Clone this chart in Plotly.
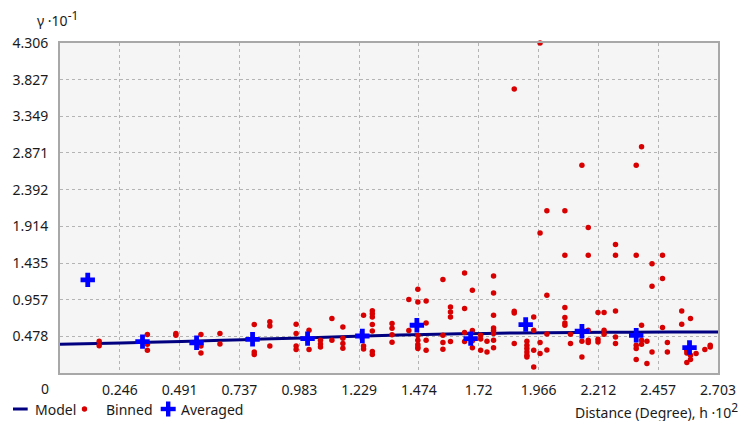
import plotly.graph_objects as go

# ---- data ---------------------------------------------------------------
x_ticks = [0.246, 0.491, 0.737, 0.983, 1.229, 1.474, 1.72, 1.966, 2.212, 2.457, 2.703]
x_tick_labels = ["0.246", "0.491", "0.737", "0.983", "1.229", "1.474", "1.72",
                 "1.966", "2.212", "2.457", "2.703"]
y_ticks = [0.478, 0.957, 1.435, 1.914, 2.392, 2.871, 3.349, 3.827, 4.306]
y_tick_labels = ["0.478", "0.957", "1.435", "1.914", "2.392", "2.871", "3.349", "3.827", "4.306"]

# fitted semivariogram model (distance, gamma)
model_dist = [0.0, 0.25, 0.5, 0.75, 1.0, 1.25, 1.5, 1.75, 2.0, 2.25, 2.5, 2.703]
model_gamma = [0.375, 0.392, 0.412, 0.435, 0.458, 0.484, 0.503, 0.517, 0.526, 0.532, 0.535, 0.535]

# binned empirical semivariance
binned_dist = [
    0.161, 0.161,
    0.359, 0.359, 0.359,
    0.476, 0.476,
    0.579, 0.579, 0.579,
    0.657, 0.657,
    0.798, 0.798, 0.798,
    0.862, 0.862, 0.862,
    0.970, 0.970, 0.970, 0.970,
    1.023, 1.023,
    1.070, 1.070, 1.070,
    1.117, 1.117,
    1.162, 1.162, 1.162, 1.162,
    1.247, 1.247, 1.247,
    1.283, 1.283, 1.283, 1.283, 1.283, 1.283, 1.283,
    1.364, 1.364, 1.364, 1.364,
    1.433, 1.433,
    1.470, 1.470, 1.470, 1.470, 1.470, 1.470, 1.470,
    1.504, 1.504, 1.504, 1.504,
    1.573, 1.573, 1.573, 1.573,
    1.604, 1.604, 1.604, 1.604,
    1.662, 1.662, 1.662, 1.662,
    1.694, 1.694, 1.694, 1.694,
    1.728, 1.728, 1.728,
    1.754, 1.754,
    1.781, 1.781, 1.781, 1.781, 1.781, 1.781, 1.781, 1.781,
    1.866, 1.866, 1.866, 1.866,
    1.918, 1.918, 1.918, 1.918, 1.918, 1.918,
    1.946, 1.946, 1.946, 1.946,
    1.972, 1.972, 1.972, 1.972,
    2.000, 2.000, 2.000, 2.000,
    2.074, 2.074, 2.074, 2.074, 2.074, 2.074,
    2.097, 2.097,
    2.144, 2.144, 2.144,
    2.170, 2.170, 2.170, 2.170, 2.170,
    2.210, 2.210, 2.210,
    2.235, 2.235, 2.235,
    2.282, 2.282, 2.282, 2.282, 2.282,
    2.367, 2.367, 2.367, 2.367, 2.367,
    2.389, 2.389, 2.389, 2.389,
    2.411, 2.411,
    2.432, 2.432, 2.432,
    2.475, 2.475, 2.475,
    2.495, 2.495,
    2.554, 2.554,
    2.575, 2.575, 2.575,
    2.590, 2.590, 2.590,
    2.613,
    2.649,
    2.671, 2.671,
]
binned_gamma = [
    0.414, 0.355,
    0.501, 0.375, 0.296,
    0.516, 0.492,
    0.501, 0.353, 0.261,
    0.514, 0.378,
    0.632, 0.274, 0.240,
    0.668, 0.614, 0.353,
    0.636, 0.514, 0.353, 0.308,
    0.558, 0.306,
    0.427, 0.378, 0.340,
    0.710, 0.427,
    0.601, 0.455, 0.385, 0.322,
    0.754, 0.352, 0.312,
    0.812, 0.772, 0.731, 0.632, 0.547, 0.280, 0.240,
    0.645, 0.585, 0.500, 0.400,
    0.960, 0.553,
    1.093, 0.927, 0.488, 0.427, 0.371, 0.340, 0.320,
    0.940, 0.653, 0.427, 0.296,
    1.220, 0.492, 0.397, 0.310,
    0.862, 0.797, 0.731, 0.410,
    1.306, 0.841, 0.530, 0.412,
    1.080, 0.553, 0.420, 0.330,
    0.492, 0.443, 0.296,
    0.414, 0.274,
    1.267, 1.045, 0.754, 0.588, 0.553, 0.515, 0.427, 0.330,
    3.705, 0.806, 0.784, 0.384,
    0.414, 0.362, 0.319, 0.274, 0.231, 0.209,
    0.731, 0.558, 0.296, 0.078,
    4.306, 1.828, 0.397, 0.253,
    2.116, 1.015, 0.509, 0.300,
    2.116, 1.537, 0.854, 0.724, 0.653, 0.623,
    0.505, 0.384,
    2.712, 0.414, 0.209,
    1.899, 1.537, 0.558, 0.427, 0.397,
    0.789, 0.440, 0.405,
    0.789, 0.558, 0.505,
    1.677, 1.537, 0.810, 0.470, 0.384,
    2.712, 1.537, 0.362, 0.319, 0.175,
    2.952, 0.623, 0.427, 0.375,
    0.414, 0.123,
    1.424, 1.132, 0.274,
    1.537, 1.233, 0.593,
    0.397, 0.274,
    0.810, 0.636,
    0.296, 0.261, 0.136,
    0.710, 0.231, 0.175,
    0.253,
    0.306,
    0.362, 0.340,
]

# averaged semivariance per lag
avg_dist = [0.114, 0.339, 0.561, 0.791, 1.017, 1.242, 1.466, 1.687, 1.913, 2.144, 2.367, 2.586]
avg_gamma = [1.215, 0.410, 0.395, 0.440, 0.449, 0.483, 0.623, 0.449, 0.632, 0.545, 0.492, 0.332]

# ---- styling ------------------------------------------------------------
FONT = "Noto Sans"
FS = 14
TEXT = "#1a1a1a"
NAVY = "#000080"
RED = "#d80000"
BLUE = "#0000ff"

fig = go.Figure()

fig.add_trace(go.Scatter(
    x=model_dist, y=model_gamma, mode="lines", name="Model",
    line=dict(color=NAVY, width=3, shape="spline"),
    hoverinfo="skip", showlegend=False,
))
fig.add_trace(go.Scatter(
    x=binned_dist, y=binned_gamma, mode="markers", name="Binned",
    marker=dict(color=RED, size=5.5, line=dict(width=0)),
    showlegend=False, cliponaxis=False,
))
fig.add_trace(go.Scatter(
    x=avg_dist, y=avg_gamma, mode="markers", name="Averaged",
    marker=dict(color=BLUE, size=12, symbol="cross", line=dict(width=0)),
    showlegend=False,
))

axis_common = dict(
    showgrid=True, gridcolor="#b4b4b4", gridwidth=1, griddash="dot",
    showline=True, mirror=True, linecolor="#a8a8a8", linewidth=2,
    zeroline=False, ticks="", fixedrange=True,
    tickfont=dict(family=FONT, size=FS, color=TEXT),
)

fig.update_xaxes(range=[0, 2.703], tickmode="array",
                 tickvals=x_ticks, ticktext=x_tick_labels,
                 ticklabelstandoff=3, **axis_common)
fig.update_yaxes(range=[0, 4.306], tickmode="array",
                 tickvals=y_ticks, ticktext=y_tick_labels,
                 ticklabelstandoff=7, **axis_common)

# plot area spans 54..726 px horizontally and 43..373 px vertically
PL, PR, PT, PB = 54, 726, 43, 373
W, H = 748, 421


def px(x):
    return (x - PL) / (PR - PL)


def py(y):
    return (PB - y) / (PB - PT)


SUP = "<sup><span style='font-size:12px'>{}</span></sup>"

annotations = [
    dict(text="γ ·10" + SUP.format("-1"), x=px(28), y=py(19), xanchor="left", yanchor="middle"),
    dict(text="0", x=px(39), y=py(388), xanchor="center", yanchor="middle"),
    dict(text="Distance (Degree), h ·10" + SUP.format("2"), x=px(748), y=py(410),
         xanchor="right", yanchor="middle"),
    dict(text="Model", x=px(26), y=py(409), xanchor="left", yanchor="middle"),
    dict(text="Binned", x=px(99), y=py(409), xanchor="left", yanchor="middle"),
    dict(text="Averaged", x=px(176), y=py(409), xanchor="left", yanchor="middle"),
]
for a in annotations:
    a.update(xref="paper", yref="paper", showarrow=False,
             font=dict(family=FONT, size=FS, color=TEXT))

# legend keys
shapes = [
    dict(type="line", xref="paper", yref="paper", x0=px(6), x1=px(21), y0=py(409), y1=py(409),
         line=dict(color=NAVY, width=3)),
    dict(type="circle", xref="paper", yref="paper", xsizemode="pixel", ysizemode="pixel",
         xanchor=px(79), yanchor=py(409), x0=-2.7, x1=2.7, y0=-2.7, y1=2.7,
         fillcolor=RED, line=dict(width=0)),
    dict(type="rect", xref="paper", yref="paper", xsizemode="pixel", ysizemode="pixel",
         xanchor=px(164.5), yanchor=py(409), x0=-7.5, x1=7.5, y0=-2.2, y1=2.2,
         fillcolor=BLUE, line=dict(width=0)),
    dict(type="rect", xref="paper", yref="paper", xsizemode="pixel", ysizemode="pixel",
         xanchor=px(164.5), yanchor=py(409), x0=-2.2, x1=2.2, y0=-7.5, y1=7.5,
         fillcolor=BLUE, line=dict(width=0)),
]

fig.update_layout(
    width=W, height=H,
    margin=dict(l=PL, r=W - PR, t=PT, b=H - PB, pad=0),
    paper_bgcolor="white", plot_bgcolor="#f5f5f5",
    font=dict(family=FONT, size=FS, color=TEXT),
    annotations=annotations, shapes=shapes,
    showlegend=False,
)

fig.write_html("out.html", config={"displayModeBar": False})
